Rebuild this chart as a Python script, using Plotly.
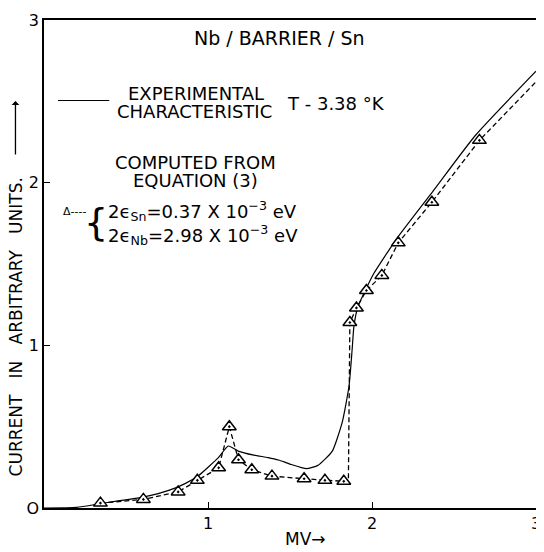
import plotly.graph_objects as go

# Experimental characteristic (solid curve)
exp_x = [0.0, 0.2, 0.35, 0.61, 0.76, 0.86, 0.943, 1.063, 1.124, 1.184, 1.28, 1.366, 1.43,
         1.5, 1.6, 1.67, 1.758, 1.819, 1.86, 1.879, 1.89, 1.915, 1.965, 2.01, 2.15,
         2.37, 2.63, 3.0]
exp_y = [0.0, 0.004, 0.028, 0.068, 0.108, 0.15, 0.2, 0.31, 0.381, 0.35, 0.325, 0.31, 0.295,
         0.27, 0.242, 0.262, 0.35, 0.53, 0.75, 0.976, 1.12, 1.24, 1.35, 1.44, 1.655,
         1.945, 2.29, 2.685]

# Computed from equation (3) (triangles)
comp_x = [0.344, 0.606, 0.818, 0.935, 1.065, 1.13, 1.186, 1.267, 1.39, 1.586, 1.713, 1.828,
          1.865, 1.905, 1.966, 2.06, 2.16, 2.365, 2.655]
comp_y = [0.03, 0.053, 0.099, 0.17, 0.247, 0.50, 0.297, 0.235, 0.196, 0.18, 0.17, 0.164,
          1.14, 1.23, 1.337, 1.43, 1.63, 1.88, 2.26]

# Dashed computed line (through triangles, with the step corner and extension)
comp_line_x = comp_x[:12] + [1.856] + comp_x[12:] + [3.0]
comp_line_y = comp_y[:12] + [0.164] + comp_y[12:] + [2.62]

x_ticks = [1, 2, 3]
y_ticks = [0, 1, 2, 3]

FONT = "DejaVu Sans"
NB = "\u00a0"

fig = go.Figure()
fig.add_trace(go.Scatter(x=exp_x, y=exp_y, mode="lines",
                         line=dict(color="black", width=1.2, shape="spline", smoothing=0.5),
                         showlegend=False))
fig.add_trace(go.Scatter(x=comp_line_x, y=comp_line_y, mode="lines",
                         line=dict(color="black", width=1.3, dash="5px,3px"), showlegend=False))
fig.add_trace(go.Scatter(x=comp_x, y=comp_y, mode="markers",
                         marker=dict(symbol="triangle-up-dot", size=12, color="white",
                                     line=dict(color="black", width=1.5)),
                         showlegend=False))

def A(text, x, y, size=18, xanchor="center", **kw):
    fig.add_annotation(text=text, x=x, y=y, xref="x", yref="y", showarrow=False,
                       xanchor=xanchor, yanchor="middle",
                       font=dict(family=FONT, size=size, color="black"), **kw)

A("Nb / BARRIER / Sn", 1.437, 2.89, size=19)
A("EXPERIMENTAL", 0.924, 2.55)
A("CHARACTERISTIC", 0.917, 2.435)
A("T - 3.38 °K", 1.467, 2.486, xanchor="left")
A("COMPUTED FROM", 0.924, 2.123)
A("EQUATION (3)", 0.924, 2.013)
A("Δ‐‐‐‐", 0.105, 1.82, size=11, xanchor="left")
A("{", 0.32, 1.76, size=38)
A("2ϵ<sub>Sn</sub>=0.37 X 10<sup>−3</sup> eV", 0.375, 1.827, xanchor="left")
A("2ϵ<sub>Nb</sub>=2.98 X 10<sup>−3</sup> eV", 0.375, 1.676, xanchor="left")

fig.add_shape(type="line", x0=0.085, x1=0.398, y0=2.505, y1=2.505, xref="x", yref="y",
              line=dict(color="black", width=1))

gap = NB * 3
fig.add_annotation(text="CURRENT" + gap + "IN" + gap + "ARBITRARY" + gap + "UNITS.",
                   xref="paper", yref="paper",
                   x=-0.055, y=0.372, textangle=-90, showarrow=False,
                   xanchor="center", yanchor="middle",
                   font=dict(family=FONT, size=17, color="black"))
# arrow after the y-axis title
fig.add_annotation(text="", xref="paper", yref="paper", x=-0.058, y=0.834,
                   ax=0, ay=55, axref="pixel", ayref="pixel", showarrow=True,
                   arrowhead=1, arrowsize=1, arrowwidth=1.3, arrowcolor="black")
fig.add_annotation(text="MV→", xref="paper", yref="paper", x=0.531, y=-0.0645,
                   showarrow=False, xanchor="center", yanchor="middle",
                   font=dict(family=FONT, size=17, color="black"))

fig.update_layout(
    width=536, height=544,
    margin=dict(l=36, r=3, t=5, b=44),
    plot_bgcolor="white", paper_bgcolor="white",
    xaxis=dict(range=[0, 3], tickvals=x_ticks, ticktext=[str(v) for v in x_ticks],
               ticks="inside", ticklen=6, tickcolor="black", showgrid=False, zeroline=False,
               showline=True, linecolor="black", linewidth=1.5, mirror=True,
               ticklabeloverflow="allow",
               tickfont=dict(family=FONT, size=16, color="black")),
    yaxis=dict(range=[0, 3], tickvals=y_ticks, ticktext=["O", "1", "2", "3"],
               ticks="inside", ticklen=6, tickcolor="black", showgrid=False, zeroline=False,
               showline=True, linecolor="black", linewidth=1.5, mirror=True,
               ticklabeloverflow="allow",
               tickfont=dict(family=FONT, size=16, color="black")),
)

fig.write_html("out.html")
